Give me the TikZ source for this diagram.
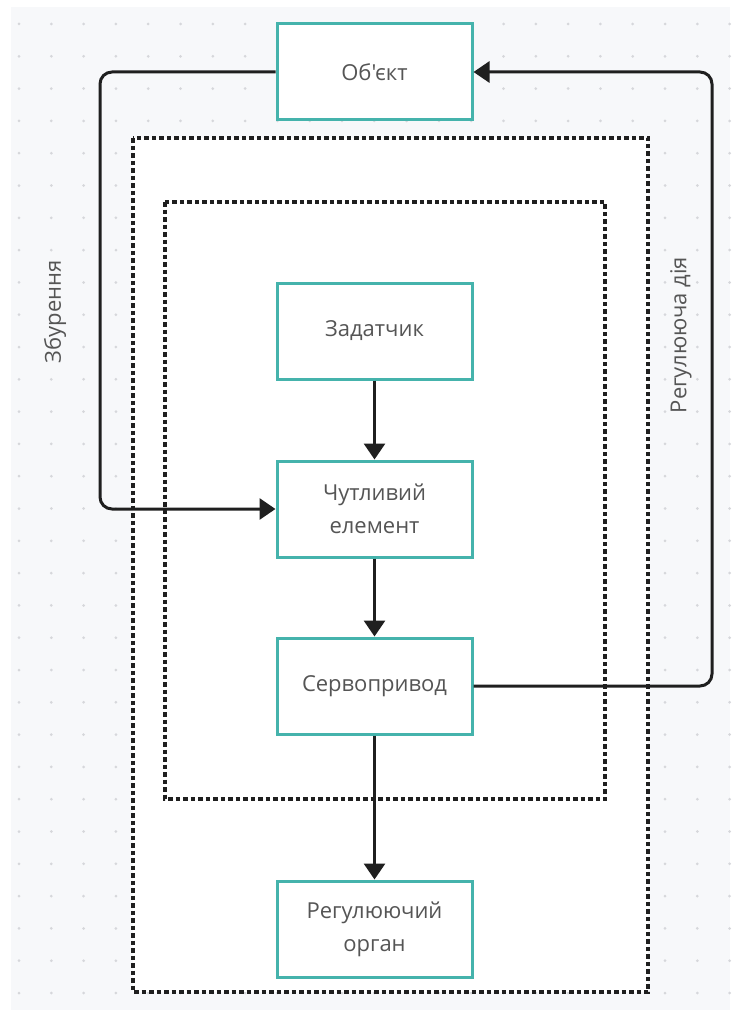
\documentclass[tikz,border=0pt]{standalone}
\usepackage{fontspec}
\newfontfamily\uifont{Open Sans}[Ligatures=TeXOff]
\usetikzlibrary{arrows.meta}
\definecolor{boxline}{HTML}{45B3AC}
\definecolor{labeltext}{HTML}{555555}
\definecolor{canvas}{HTML}{F7F8FA}
\definecolor{griddot}{HTML}{D6D7DB}
\tikzset{
  block/.style={draw=boxline, line width=3pt, fill=white, minimum width=195pt,
    minimum height=96pt, inner sep=0pt, align=center, text=labeltext,
    font=\uifont\fontsize{22}{33}\selectfont},
  flow/.style={draw=black!88, line width=3pt, -{Triangle[length=16pt,width=21pt]}},
  frame/.style={draw=black!88, line width=3.2pt, dash pattern=on 4.5pt off 3pt},
  sidelabel/.style={text=labeltext, font=\uifont\fontsize{22}{26}\selectfont, rotate=90}
}
\begin{document}
\begin{tikzpicture}[x=1pt, y=-1pt]
  \useasboundingbox (0,0) rectangle (741,1014);
  % canvas with dot grid
  \fill[white] (0,0) rectangle (741,1014);
  \fill[canvas] (11,7) rectangle (730,1010);
  \foreach \i in {0,...,22} {
    \foreach \j in {0,...,30} {
      \fill[griddot] ({19+32.3*\i},{24+32.3*\j}) circle (1.5pt);
    }
  }
  % dotted enclosures
  \fill[white] (133,138) rectangle (648,992);
  \draw[frame] (133,138) rectangle (648,992);
  \draw[frame] (165,202) rectangle (605,799);

  % blocks
  \node[block] (obj)  at (374.5,72)  {Об'єкт};
  \node[block] (set)  at (374.5,331) {Задатчик};
  \node[block] (sens) at (374.5,509) {Чутливий\\елемент};
  \node[block] (serv) at (374.5,686) {Сервопривод};
  \node[block] (reg)  at (374.5,929) {Регулюючий\\орган};

  % feedback corners
  \coordinate (lt) at (100,72);
  \coordinate (lb) at (100,509);
  \coordinate (rb) at (712,686);
  \coordinate (rt) at (712,72);

  % connectors
  \draw[flow] (set) -- (sens);
  \draw[flow] (sens) -- (serv);
  \draw[flow] (serv) -- (reg);
  \draw[flow, rounded corners=12pt] (obj.west) -- (lt) -- (lb) -- (sens.west);
  \draw[flow, rounded corners=12pt] (serv.east) -- (rb) -- (rt) -- (obj.east);

  % side labels
  \node[sidelabel] (dist) at (55,312) {Збурення};
  \node[sidelabel] (ctrl) at (681,335) {Регулююча дія};
\end{tikzpicture}
\end{document}
